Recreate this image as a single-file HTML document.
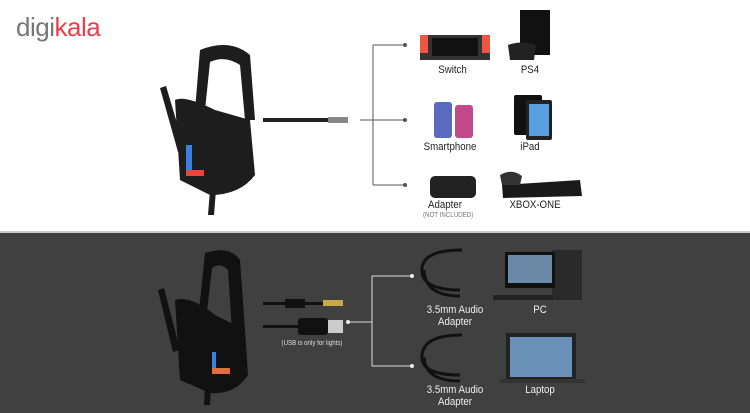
<!DOCTYPE html>
<html><head><meta charset="utf-8"><style>
body{margin:0;width:750px;height:411px;overflow:hidden;background:#fff;font-family:"Liberation Sans",sans-serif;position:relative}
.a{position:absolute}
.t{position:absolute;font-size:11px;color:#222;text-align:center;transform:scaleX(.88);white-space:nowrap}
.w{color:#eee}
</style></head><body>
<div class="a" style="left:0;top:231px;width:750px;height:180px;background:#404040;border-top:2px solid #ccc"></div>
<div class="a" style="left:16px;top:12px;font-size:26px;letter-spacing:-0.5px"><span style="color:#777">digi</span><span style="color:#e8404a">kala</span></div>

<svg class="a" style="left:0;top:0" width="750" height="411">
<!-- top headset -->
<g fill="#1d1d1d">
<path d="M200 50 Q230 38 250 55 L255 120 L245 120 L240 65 Q225 55 210 62 L205 110 L195 110 Z"/>
<path d="M175 100 Q185 95 215 110 L250 120 L255 175 Q240 195 210 195 L180 180 Z"/>
<path d="M160 88 L166 86 L185 150 L178 152 Z"/>
<path d="M210 190 L216 190 L214 215 L208 215 Z"/>
</g>
<rect x="186" y="145" width="6" height="30" fill="#3b7fe0"/>
<rect x="186" y="170" width="18" height="6" fill="#e04a3b"/>
<rect x="263" y="118" width="65" height="4" fill="#222"/>
<rect x="328" y="117" width="20" height="6" fill="#888"/>
<!-- top bracket -->
<g stroke="#555" fill="none" stroke-width="1">
<path d="M360 120 H373 M373 45 V185 M373 45 H405 M373 120 H405 M373 185 H405"/>
</g>
<g fill="#555"><circle cx="405" cy="45" r="2"/><circle cx="405" cy="120" r="2"/><circle cx="405" cy="185" r="2"/></g>
<!-- switch -->
<rect x="420" y="35" width="70" height="25" fill="#333"/>
<rect x="420" y="35" width="8" height="18" fill="#e54"/><rect x="482" y="35" width="8" height="18" fill="#e54"/>
<rect x="432" y="38" width="46" height="18" fill="#111"/>
<!-- ps4 -->
<rect x="520" y="10" width="30" height="45" fill="#111"/>
<path d="M508 45 Q522 40 536 45 L534 60 L510 60 Z" fill="#222"/>
<!-- phones -->
<rect x="434" y="102" width="18" height="36" rx="3" fill="#5a6ac0"/>
<rect x="455" y="105" width="18" height="33" rx="3" fill="#c24a8a"/>
<rect x="514" y="95" width="28" height="40" rx="2" fill="#111"/><rect x="526" y="100" width="26" height="40" rx="2" fill="#222"/>
<rect x="529" y="104" width="20" height="32" fill="#5aa0e0"/>
<!-- adapter & xbox -->
<rect x="430" y="176" width="46" height="22" rx="5" fill="#222"/>
<path d="M502 185 L580 180 L582 196 L503 198 Z" fill="#1a1a1a"/>
<path d="M500 175 Q512 168 522 176 L520 185 L502 185 Z" fill="#333"/>
<!-- bottom headset -->
<g fill="#111">
<path d="M205 253 Q230 245 240 260 L245 330 L232 330 L228 270 Q220 262 212 268 L206 320 L198 320 Z"/>
<path d="M175 300 Q190 295 215 315 L245 330 L248 375 Q235 395 210 393 L180 380 Z"/>
<path d="M158 290 L164 288 L180 350 L173 352 Z"/>
<path d="M205 385 L211 385 L210 405 L204 405 Z"/>
</g>
<rect x="212" y="352" width="4" height="22" fill="#3b7fe0"/>
<rect x="212" y="368" width="18" height="6" fill="#e0703b"/>
<rect x="263" y="302" width="60" height="3" fill="#111"/><rect x="285" y="299" width="20" height="9" fill="#111"/>
<rect x="323" y="300" width="20" height="6" fill="#c9a84a"/>
<rect x="263" y="325" width="40" height="3" fill="#111"/><rect x="298" y="318" width="30" height="17" rx="3" fill="#111"/>
<rect x="328" y="320" width="15" height="13" fill="#ccc"/>
<!-- bottom bracket -->
<g stroke="#ddd" fill="none" stroke-width="1">
<path d="M348 322 H372 M372 276 V366 M372 276 H412 M372 366 H412"/>
</g>
<g fill="#eee"><circle cx="348" cy="322" r="2"/><circle cx="412" cy="276" r="2"/><circle cx="412" cy="366" r="2"/></g>
<g stroke="#111" stroke-width="3" fill="none">
<path d="M460 290 Q420 290 422 268 Q424 250 462 250"/><path d="M460 296 Q425 296 424 270"/>
<path d="M460 375 Q420 375 422 355 Q424 335 462 335"/><path d="M460 381 Q425 381 424 357"/>
</g>
<!-- PC -->
<rect x="552" y="250" width="30" height="50" fill="#2a2a2a"/>
<rect x="505" y="252" width="50" height="36" fill="#111"/><rect x="508" y="255" width="44" height="28" fill="#6a8aa8"/>
<rect x="493" y="295" width="60" height="5" fill="#222"/>
<!-- laptop -->
<rect x="506" y="333" width="70" height="46" fill="#222"/><rect x="510" y="337" width="62" height="40" fill="#6a90b8"/>
<rect x="500" y="379" width="85" height="4" fill="#333"/>
</svg>

<div class="t" style="left:425px;top:64px;width:55px">Switch</div>
<div class="t" style="left:510px;top:64px;width:40px">PS4</div>
<div class="t" style="left:415px;top:141px;width:70px">Smartphone</div>
<div class="t" style="left:510px;top:141px;width:40px">iPad</div>
<div class="t" style="left:420px;top:199px;width:50px">Adapter</div>
<div class="t" style="left:420px;top:212px;width:50px;font-size:7px;color:#777">(NOT INCLUDED)</div>
<div class="t" style="left:500px;top:199px;width:70px">XBOX-ONE</div>
<div class="t w" style="left:267px;top:340px;width:90px;font-size:7px;color:#ddd">(USB is only for lights)</div>
<div class="t w" style="left:415px;top:304px;width:80px;line-height:12px">3.5mm Audio<br>Adapter</div>
<div class="t w" style="left:520px;top:304px;width:40px">PC</div>
<div class="t w" style="left:415px;top:384px;width:80px;line-height:12px">3.5mm Audio<br>Adapter</div>
<div class="t w" style="left:515px;top:384px;width:50px">Laptop</div>
</body></html>
